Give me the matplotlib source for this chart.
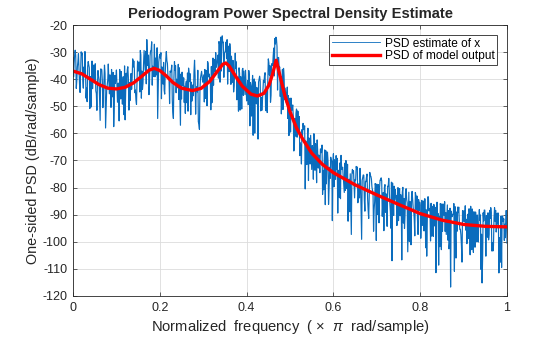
import matplotlib
matplotlib.use("Agg")
import matplotlib.pyplot as plt

plt.rcParams['font.family'] = ['Liberation Sans', 'DejaVu Sans']
plt.rcParams['mathtext.fontset'] = 'custom'
plt.rcParams['mathtext.it'] = 'Liberation Sans:italic'
plt.rcParams['mathtext.rm'] = 'Liberation Sans'
plt.rcParams['axes.unicode_minus'] = False

bin_width = 0.005
# Periodogram estimate (dB/rad/sample), read at f = k*0.005 (k = 0..200)
psd_est_a = [
    -32, -29.3, -35.5, -41.8, -31, -35.5, -47, -33.5, -39, -43.5,
    -37, -51.5, -40, -36.3, -44.7, -58, -40.3, -38.4, -43.5, -49.5,
    -36.6, -41.5, -47.3, -39.2, -55, -36.6, -41.2, -43.7, -33.3, -47.7,
    -37, -29.4, -43.7, -33, -25.4, -45.7, -29.3, -39, -32.2, -54.5,
    -30.8, -35.5, -44.1, -29.8, -39.6, -37.4, -52.2, -36.7, -43.2, -35.8,
    -47.3, -39.5, -41.7, -51.8, -38, -46.2, -33, -42.8, -56.6, -38.4,
    -39.8, -47.1, -33.5, -40.8, -48.7, -32.7, -35.6, -39.6, -24.5, -26.5,
    -30.1, -25.4, -37.2, -31.5, -44.7, -36, -39.2, -51.4, -36.6, -41.3,
    -48, -36.8, -42.5, -60.7, -41, -46.2, -38.9, -51.5, -41.2, -46,
    -32.5, -48.5, -35, -25, -28, -36, -52.8, -36, -46, -54.5,
    -47, -51, -65, -51, -59.4, -64.9, -56.3, -80.5, -62.8, -62,
    -73.3, -60.1, -68, -72.8, -65.7, -82.5, -66.1, -70.7, -80.3, -69.9,
    -67.5, -77, -89.4, -70.9, -73.3, -81.8, -71.2, -77.7, -87.1, -74.6,
    -77, -72.4, -83.8, -99.1, -75.5, -77.9, -88.2, -75.6, -81, -85.3,
    -78.7, -93, -76.4, -81.8, -89.1, -79.5, -85.8, -107, -79.5, -82.9,
    -92.2, -82.6, -79.9, -90.2, -85.6, -99.9, -83.3, -88.6, -82.9, -97.3,
    -86.6, -93.9, -84.1, -105.3, -88.6, -85.8, -98, -87.3, -90.5, -101.8,
    -86, -90.2, -97.3, -88.5, -116.7, -89.8, -87, -96.1, -92.3, -101.5,
    -88.6, -95.7, -89.8, -104.8, -87.9, -94, -100, -91.1, -110.2, -89.3,
    -92.3, -98.3, -88.4, -103.4, -91.4, -96.4, -89.4, -107.5, -90.5, -93.5,
    -100.5,
]
# read at f = k*0.005 + 0.00125
psd_est_c = [
    -39.1, -31.4, -33.6, -44.9, -30.3, -37.8, -43.3, -34.8, -50.3, -37.8,
    -34.3, -41.8, -47.2, -36.5, -40.8, -51.2, -34.4, -40.4, -46.5, -38.6,
    -42.5, -55.4, -37.2, -39.1, -44.8, -35.4, -47.9, -39.5, -36, -49.3,
    -35.7, -31, -41.4, -36.7, -31.1, -41.5, -26.2, -37.1, -33.4, -44.7,
    -32.2, -35.8, -45.5, -33.2, -40, -36.8, -54.5, -35, -41.5, -46.1,
    -37.4, -48.6, -40.7, -35.9, -53.1, -42.1, -38.9, -44.7, -58.5, -37.1,
    -38.4, -44.8, -34.1, -39.3, -45.2, -33.2, -34.1, -26.1, -37, -26.3,
    -29.3, -41.8, -26.9, -35.1, -42.4, -33.6, -51.8, -39, -36, -45.7,
    -43.4, -39.2, -53.6, -41.9, -44.1, -62.1, -40.7, -48.4, -38.6, -43.3,
    -34, -46, -31.3, -27, -44, -35.5, -45.6, -38.8, -48.6, -46.1,
    -59.5, -49.5, -54.5, -61.4, -53.8, -71.3, -58.6, -62.8, -58.1, -71.3,
    -64.5, -62.3, -78.2, -68, -65.9, -73.7, -86.3, -66.9, -72.5, -70.1,
    -79.7, -68.2, -73.6, -84.1, -72.5, -71, -80.4, -76.9, -97.3, -73.8,
    -77.2, -85.6, -72.9, -77.3, -84.7, -76, -91.4, -75.8, -82.1, -78.5,
    -89.9, -80.2, -77.6, -95.9, -82.3, -79.6, -89, -78.3, -84.7, -94,
    -82.4, -84.7, -93.1, -81.4, -103.7, -85.1, -81.4, -91.8, -88.1, -84.4,
    -98.7, -86, -84.2, -92.4, -87.7, -97.9, -86.2, -111.4, -89.6, -85.9,
    -96.1, -85.2, -91.4, -102.6, -88.7, -89.9, -99, -87.2, -95.4, -107.5,
    -88.7, -91.7, -98.8, -86.9, -92.9, -102, -90.1, -88.1, -97.2, -92.3,
    -105.3, -89.3, -91.4, -100.4, -87.4, -94.4, -111.5, -90.5, -92.5, -98.5,
]
# read at f = k*0.005 + 0.0025
psd_est_b = [
    -34.1, -43.4, -30.6, -36.9, -40.3, -29.8, -48.3, -35.8, -40.3, -34.8,
    -44.3, -36.8, -55.2, -40.5, -34.8, -44.2, -39.4, -50.4, -37.5, -41.6,
    -48.5, -36.4, -42.2, -53.1, -37.8, -39.4, -43.9, -32.5, -45, -40.3,
    -33.7, -47, -34.4, -29.7, -35, -31.5, -42.2, -27.1, -38.4, -33.7,
    -30.2, -41.8, -37.5, -34.2, -49, -34.8, -39.5, -45, -34.5, -57,
    -39.4, -42.6, -48.7, -37.9, -41.1, -46.1, -52.9, -36.7, -43.5, -39.1,
    -48.4, -36.8, -39.1, -51.3, -32.2, -37.2, -33.1, -27.1, -29, -39.3,
    -26.3, -31.8, -29.9, -41.1, -36.4, -47.6, -35.8, -42, -46, -36.7,
    -40.4, -57.2, -43.6, -39.9, -49.1, -41.1, -51.7, -44.4, -37.6, -52.3,
    -38.5, -34.3, -28.5, -24.5, -32, -46.4, -36.4, -47.5, -45.3, -60.8,
    -47, -54, -61, -51.7, -68.2, -58.6, -57.9, -66.2, -77.4, -60.7,
    -65.7, -73.6, -62.4, -70.3, -67.1, -80.8, -66.4, -70, -76.6, -92.2,
    -69.7, -73.2, -81.6, -68.1, -75.5, -81, -71.4, -88.9, -75.3, -78.8,
    -72.2, -84.6, -77.9, -76.3, -88.7, -75, -83.4, -76.8, -96.1, -79.5,
    -81.9, -77.2, -90.6, -79.9, -87.3, -76.6, -95, -83.3, -80.7, -90,
    -80.4, -106.7, -84, -80.4, -92.7, -86.1, -84.4, -97.8, -83.1, -88.4,
    -92.7, -85, -102.2, -83.4, -88.7, -96.9, -87.2, -91.4, -108.6, -86.9,
    -89.1, -96.2, -86.4, -100.6, -90.7, -85.9, -106, -89.2, -95.4, -88.5,
    -92.7, -100.7, -87.8, -90.9, -103.9, -89, -97, -92.1, -115.2, -88.3,
    -90.3, -99.3, -87.4, -103.4, -92.4, -89.4, -98.5, -109.5, -91.5, -88.5,
]
# read at f = k*0.005 + 0.00375
psd_est_d = [
    -31.1, -40.4, -36.6, -29.9, -43.3, -36.8, -35.3, -50.8, -33.3, -40.8,
    -45.3, -38.8, -36.2, -50.5, -37.8, -42.2, -45.4, -36.4, -57.5, -39.6,
    -41.5, -38.4, -49.2, -35.1, -42.8, -51.4, -37.9, -35.5, -44, -33.3,
    -44.7, -37, -29.4, -41.7, -31.1, -29.5, -35.2, -39.1, -28.4, -31.7,
    -47.2, -33.8, -32.5, -39.2, -37, -47.8, -33.5, -40, -47.5, -38.1,
    -42.4, -52.6, -37.7, -40.9, -48.1, -37.1, -43.9, -55.7, -39.5, -41.1,
    -36.4, -49.8, -38.1, -35.3, -42.2, -30.2, -31.1, -41.1, -24, -30.3,
    -32.3, -27.8, -41.9, -33.1, -30.4, -41.6, -37.8, -51, -37, -42.7,
    -49.4, -41.2, -38.6, -59.9, -43.1, -40.1, -46.7, -40.4, -51.6, -40.9,
    -35, -34.6, -38.8, -25.2, -32, -39, -51.2, -43.3, -42.9, -55.4,
    -51.5, -66.5, -52.5, -52, -63.5, -60.9, -57.2, -71.5, -61.7, -67,
    -76.9, -63.8, -66.6, -74.5, -64.3, -70, -78.6, -86.2, -68.8, -71.4,
    -73.7, -69.2, -83.6, -72.1, -78.5, -70, -92.4, -74.9, -73.3, -83.8,
    -73.2, -78.6, -88.9, -75.3, -77.7, -84, -74.4, -79.8, -88.1, -99.5,
    -78.9, -77.2, -85.6, -78.9, -94.3, -81.6, -78, -90.3, -83.7, -80,
    -90.4, -81.7, -95.1, -84.4, -81.7, -101.1, -87.4, -81.8, -92.1, -85.4,
    -84.7, -96, -88.2, -83.4, -99.7, -86.9, -94.2, -85.4, -90.6, -102.9,
    -86.1, -89.2, -99.4, -87.6, -90.7, -110.9, -89, -87.2, -97.4, -92.5,
    -86.7, -98.7, -90.8, -102.9, -88.9, -92, -100.1, -90.1, -106.2, -88.3,
    -91.3, -97.3, -89.4, -101.4, -88.4, -93.4, -104.5, -90.5, -99.5, -88.5,
]

# Model output PSD (dB/rad/sample)
model_freq = [0.00, 0.02, 0.04, 0.06, 0.08, 0.10, 0.12, 0.14, 0.16, 0.175,
              0.187, 0.20, 0.215, 0.23, 0.25, 0.275, 0.295, 0.315, 0.333, 0.345,
              0.352, 0.36, 0.375, 0.39, 0.41, 0.425, 0.44, 0.452, 0.46, 0.468,
              0.472, 0.478, 0.488, 0.50, 0.515, 0.53, 0.55, 0.575, 0.60, 0.65,
              0.70, 0.75, 0.80, 0.85, 0.90, 0.95, 1.00]
model_psd = [-37.0, -38.0, -40.0, -42.0, -43.3, -43.6, -43.0, -41.3, -38.7, -36.7,
             -36.0, -36.8, -38.8, -41.2, -43.3, -44.2, -43.4, -40.8, -37.0, -34.5,
             -34.0, -35.2, -39.0, -42.6, -45.5, -46.2, -45.2, -42.0, -38.0, -33.0,
             -35.5, -39.5, -46.0, -52.0, -58.0, -62.3, -67.3, -71.5, -74.5, -79.0,
             -82.7, -86.2, -89.6, -92.0, -93.6, -94.3, -94.5]

xticks = [0, 0.2, 0.4, 0.6, 0.8, 1]
xticklabels = ['0', '0.2', '0.4', '0.6', '0.8', '1']
yticks = list(range(-120, -19, 10))

# interleave the four read-off lists into one series ordered by frequency
psd_freq, psd_est = [], []
for k, va in enumerate(psd_est_a):
    psd_freq.append(k * bin_width)
    psd_est.append(va)
    if k < len(psd_est_b):
        for off, lst in ((0.25, psd_est_c), (0.5, psd_est_b), (0.75, psd_est_d)):
            psd_freq.append((k + off) * bin_width)
            psd_est.append(lst[k])

fig = plt.figure(figsize=(5.6, 3.37), dpi=100)
ax = fig.add_axes([0.1304, 0.1217, 0.775, 0.8041])

ax.plot(psd_freq, psd_est, color='#0a6cbd', lw=0.85, label='PSD estimate of x')
ax.plot(model_freq, model_psd, color='red', lw=2.4, label='PSD of model output')

ax.set_xlim(0, 1)
ax.set_ylim(-120, -20)
ax.set_xticks(xticks)
ax.set_xticklabels(xticklabels)
ax.set_yticks(yticks)
ax.grid(True, color='#dcdcdc', lw=0.6)
ax.set_axisbelow(True)
ax.tick_params(direction='in', top=True, right=True, labelsize=9, length=3,
               width=0.5, pad=4, colors='#262626')
for s in ax.spines.values():
    s.set_linewidth(0.6)
    s.set_color('#262626')

ax.set_title('Periodogram Power Spectral Density Estimate', fontsize=10.6,
             fontweight='bold', color='#262626', pad=5)
ax.set_xlabel(r'Normalized  frequency  ( $\times$  $\pi$  rad/sample)',
              fontsize=10.6, color='#262626', labelpad=3)
ax.set_ylabel('One-sided PSD (dB/rad/sample)', fontsize=10.4, color='#262626',
              labelpad=2)

leg = ax.legend(loc='upper right', fontsize=8.6, frameon=True, fancybox=False,
                framealpha=1, edgecolor='#262626', borderpad=0.25,
                handlelength=4.0, handletextpad=0.4, labelspacing=0.05,
                borderaxespad=0.8)
leg.get_frame().set_linewidth(0.6)
for h in leg.get_lines()[:1]:
    h.set_linewidth(0.6)

fig.savefig('out.png', dpi=100)
